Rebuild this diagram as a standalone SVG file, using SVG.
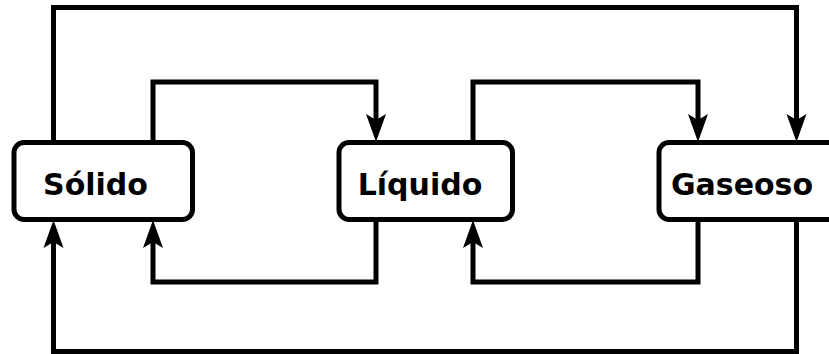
<svg xmlns="http://www.w3.org/2000/svg" width="829" height="354" viewBox="0 0 829 354">
<style>
.c{fill:none;stroke:#000;stroke-width:5;stroke-linejoin:miter;marker-end:url(#arr)}
.b{fill:#fff;stroke:#000;stroke-width:5}
.t{font-family:"DejaVu Sans",sans-serif;font-weight:bold;font-size:30px;text-anchor:middle;fill:#000}
</style>
<defs>
<marker id="arr" markerUnits="userSpaceOnUse" markerWidth="30" markerHeight="22" viewBox="-15 -11 30 22" refX="0" refY="0" orient="auto" overflow="visible">
<path d="M15,0 L-13,-10 L-7,0 L-13,10 z" fill="#000"/>
</marker>
</defs>
<rect width="829" height="354" fill="#fff"/>
<g id="connectors">
<path class="c" d="M53.5,142.5 V7.5 H796.5 V127"/>
<path class="c" d="M153,142.5 V82 H376 V127"/>
<path class="c" d="M473,142.5 V82 H698 V127"/>
<path class="c" d="M376,219.5 V282 H153 V235"/>
<path class="c" d="M698,219.5 V282 H473 V235"/>
<path class="c" d="M796.5,219.5 V351.5 H53.5 V235"/>
</g>
<g id="solido">
<rect class="b" x="14" y="142.5" width="178.5" height="77" rx="10"/>
<text class="t" x="95.5" y="195">Sólido</text>
</g>
<g id="liquido">
<rect class="b" x="339" y="142.5" width="173.5" height="77" rx="10"/>
<text class="t" x="420" y="195">Líquido</text>
</g>
<g id="gaseoso">
<rect class="b" x="659" y="142.5" width="180" height="77" rx="10"/>
<text class="t" x="742" y="195">Gaseoso</text>
</g>
</svg>
